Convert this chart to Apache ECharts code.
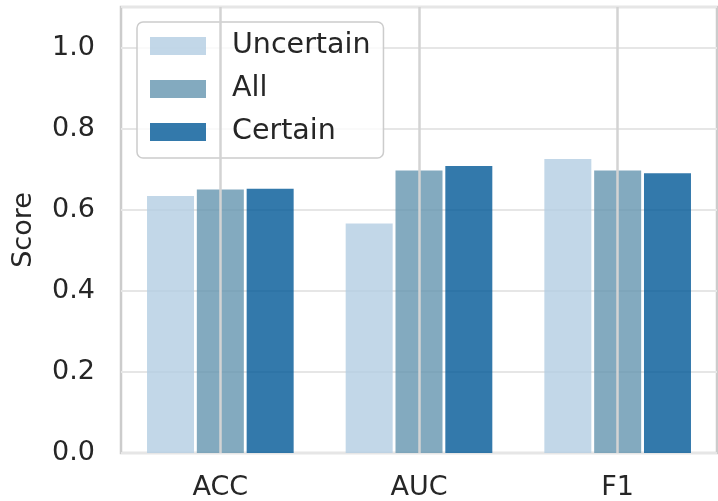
<!DOCTYPE html>
<html>
<head>
<meta charset="utf-8">
<script src="https://cdn.jsdelivr.net/npm/echarts@6/dist/echarts.min.js"></script>
<style>html,body{margin:0;padding:0;background:#fff;}#c{width:718px;height:501px;}</style>
</head>
<body>
<div id="c"></div>
<script>
const categories = ['ACC', 'AUC', 'F1'];
const seriesNames = ['Uncertain', 'All', 'Certain'];
const uncertainValues = [0.634, 0.566, 0.725];
const allValues = [0.650, 0.697, 0.697];
const certainValues = [0.652, 0.708, 0.690];
const yTicks = [0, 0.2, 0.4, 0.6, 0.8, 1.0];

const colors = ['rgba(179,205,226,0.8)', 'rgba(100,149,175,0.8)', 'rgba(0,88,150,0.8)'];
const values = [uncertainValues, allValues, certainValues];
const font = 'DejaVu Sans';

const chart = echarts.init(document.getElementById('c'));
const barSeries = seriesNames.map((n, i) => ({
  name: n,
  type: 'bar',
  data: values[i],
  barWidth: 47,
  barGap: '6%',
  z: 3,
  itemStyle: { color: colors[i] }
}));
barSeries.push({
  name: '_grid',
  type: 'line',
  data: [],
  z: 1,
  markLine: {
    silent: true,
    symbol: ['none', 'none'],
    label: { show: false },
    lineStyle: { color: '#d3d3d3', width: 2.5, type: 'solid' },
    data: categories.map(c => ({ xAxis: c }))
  }
});

chart.setOption({
  animation: false,
  backgroundColor: '#ffffff',
  grid: { left: 121, right: 1, top: 7, bottom: 48, show: true, borderColor: '#cccccc', borderWidth: 2.5, backgroundColor: 'transparent' },
  legend: {
    data: seriesNames,
    orient: 'vertical',
    left: 137,
    top: 22,
    padding: [9, 13, 11, 13],
    itemWidth: 56,
    itemHeight: 18,
    itemGap: 13,
    icon: 'rect',
    backgroundColor: 'rgba(255,255,255,0.8)',
    borderColor: '#cccccc',
    borderWidth: 1.5,
    borderRadius: 6,
    textStyle: { fontFamily: font, fontSize: 28.5, color: '#262626', lineHeight: 30, padding: [0, 0, 0, 21] }
  },
  xAxis: {
    type: 'category',
    data: categories,
    axisLine: { show: false },
    axisTick: { show: false },
    splitLine: { show: false },
    axisLabel: { fontFamily: font, fontSize: 27, color: '#262626', margin: 21 }
  },
  yAxis: {
    type: 'value',
    min: 0,
    max: 1.1,
    interval: 0.2,
    name: 'Score',
    nameLocation: 'middle',
    nameGap: 84,
    nameRotate: 90,
    nameTextStyle: { fontFamily: font, fontSize: 27, color: '#262626' },
    axisLine: { show: false },
    axisTick: { show: false },
    splitLine: { show: true, lineStyle: { color: '#e6e6e6', width: 2 } },
    axisLabel: {
      fontFamily: font, fontSize: 27, color: '#262626', margin: 26, showMaxLabel: false,
      formatter: v => yTicks.some(t => Math.abs(t - v) < 1e-9) ? v.toFixed(1) : ''
    }
  },
  series: barSeries
});
</script>
</body>
</html>
